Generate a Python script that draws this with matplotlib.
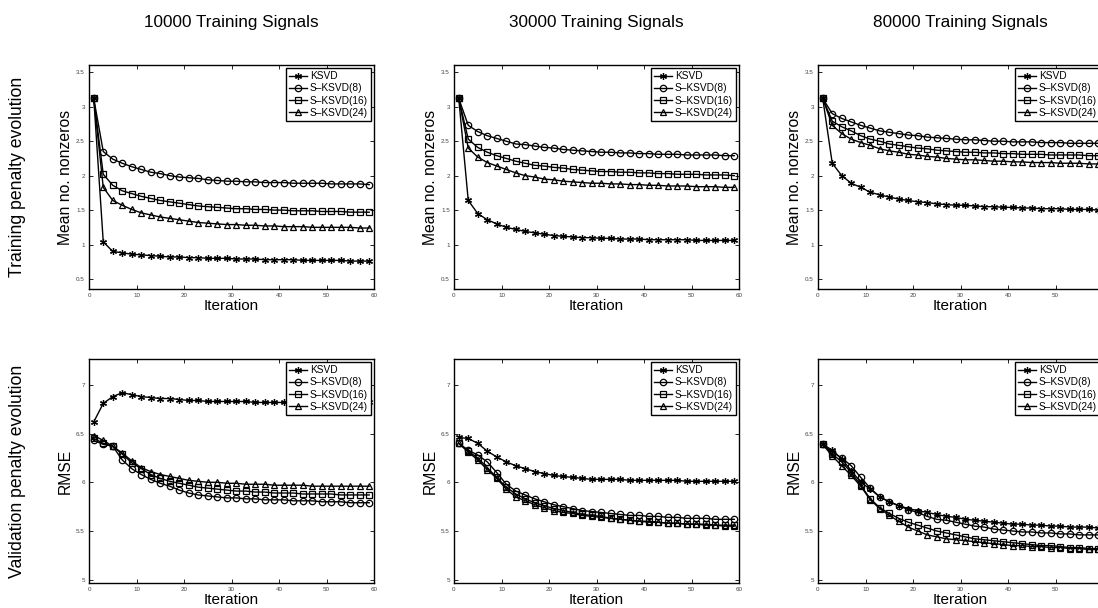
import numpy as np
import matplotlib.pyplot as plt

plt.rcParams['font.family'] = ['Liberation Sans', 'DejaVu Sans']

# iterations where the values were recorded (odd iterations)
iters = np.arange(1, 60, 2)

col_titles = ['10000 Training Signals', '30000 Training Signals', '80000 Training Signals']
row_titles = ['Training penalty evolution', 'Validation penalty evolution']
ylabels = ['Mean no. nonzeros', 'RMSE']
names = ['KSVD', 'S\u2013KSVD(8)', 'S\u2013KSVD(16)', 'S\u2013KSVD(24)']

# --- training penalty (mean no. nonzeros) ---
tr10_ksvd = [3.12, 1.04, 0.90, 0.88, 0.86, 0.85, 0.84, 0.83, 0.82, 0.82, 0.81, 0.81, 0.80, 0.80, 0.80,
             0.79, 0.79, 0.79, 0.78, 0.78, 0.78, 0.78, 0.77, 0.77, 0.77, 0.77, 0.77, 0.76, 0.76, 0.76]
tr10_s8 = [3.12, 2.35, 2.24, 2.18, 2.13, 2.09, 2.05, 2.03, 2.00, 1.98, 1.97, 1.96, 1.94, 1.93, 1.92,
           1.92, 1.91, 1.91, 1.90, 1.90, 1.90, 1.89, 1.89, 1.89, 1.89, 1.88, 1.88, 1.88, 1.88, 1.87]
tr10_s16 = [3.12, 2.02, 1.86, 1.78, 1.74, 1.70, 1.67, 1.64, 1.62, 1.60, 1.58, 1.56, 1.55, 1.54, 1.53,
            1.52, 1.52, 1.51, 1.51, 1.50, 1.50, 1.49, 1.49, 1.49, 1.48, 1.48, 1.48, 1.47, 1.47, 1.47]
tr10_s24 = [3.12, 1.83, 1.64, 1.57, 1.51, 1.46, 1.43, 1.40, 1.38, 1.36, 1.34, 1.32, 1.31, 1.30, 1.29,
            1.29, 1.28, 1.28, 1.27, 1.27, 1.26, 1.26, 1.26, 1.25, 1.25, 1.25, 1.25, 1.25, 1.24, 1.24]

tr30_ksvd = [3.12, 1.64, 1.45, 1.36, 1.30, 1.25, 1.22, 1.19, 1.17, 1.15, 1.13, 1.12, 1.11, 1.10, 1.10,
             1.09, 1.09, 1.08, 1.08, 1.08, 1.07, 1.07, 1.07, 1.07, 1.07, 1.06, 1.06, 1.06, 1.06, 1.06]
tr30_s8 = [3.12, 2.73, 2.64, 2.58, 2.54, 2.50, 2.46, 2.45, 2.43, 2.41, 2.40, 2.38, 2.37, 2.36, 2.35,
           2.34, 2.34, 2.33, 2.33, 2.32, 2.32, 2.31, 2.31, 2.31, 2.30, 2.30, 2.30, 2.30, 2.29, 2.29]
tr30_s16 = [3.12, 2.53, 2.41, 2.34, 2.29, 2.25, 2.21, 2.18, 2.15, 2.14, 2.12, 2.11, 2.09, 2.08, 2.07,
            2.06, 2.06, 2.05, 2.05, 2.04, 2.04, 2.03, 2.03, 2.02, 2.02, 2.02, 2.01, 2.01, 2.01, 2.00]
tr30_s24 = [3.12, 2.40, 2.27, 2.19, 2.14, 2.09, 2.04, 2.00, 1.98, 1.95, 1.94, 1.92, 1.91, 1.90, 1.89,
            1.89, 1.88, 1.88, 1.87, 1.87, 1.86, 1.86, 1.85, 1.85, 1.85, 1.84, 1.84, 1.84, 1.83, 1.83]

tr80_ksvd = [3.12, 2.18, 2.00, 1.89, 1.83, 1.76, 1.72, 1.69, 1.66, 1.64, 1.62, 1.61, 1.59, 1.58, 1.57,
             1.57, 1.56, 1.55, 1.55, 1.54, 1.54, 1.53, 1.53, 1.52, 1.52, 1.52, 1.51, 1.51, 1.51, 1.50]
tr80_s8 = [3.12, 2.90, 2.83, 2.78, 2.73, 2.69, 2.65, 2.63, 2.61, 2.59, 2.58, 2.56, 2.55, 2.54, 2.53,
           2.52, 2.52, 2.51, 2.50, 2.50, 2.49, 2.49, 2.49, 2.48, 2.48, 2.48, 2.47, 2.47, 2.47, 2.47]
tr80_s16 = [3.12, 2.79, 2.71, 2.65, 2.58, 2.53, 2.50, 2.46, 2.44, 2.42, 2.40, 2.39, 2.37, 2.36, 2.35,
            2.34, 2.34, 2.33, 2.33, 2.32, 2.32, 2.31, 2.31, 2.31, 2.30, 2.30, 2.30, 2.30, 2.29, 2.29]
tr80_s24 = [3.12, 2.73, 2.61, 2.53, 2.48, 2.44, 2.39, 2.36, 2.34, 2.31, 2.30, 2.28, 2.27, 2.25, 2.24,
            2.23, 2.23, 2.22, 2.21, 2.21, 2.20, 2.20, 2.19, 2.19, 2.19, 2.18, 2.18, 2.18, 2.17, 2.17]

# --- validation penalty (RMSE) ---
va10_ksvd = [6.62, 6.81, 6.88, 6.92, 6.90, 6.88, 6.87, 6.86, 6.86, 6.85, 6.84, 6.84, 6.83, 6.83, 6.83,
             6.83, 6.83, 6.82, 6.82, 6.82, 6.82, 6.82, 6.82, 6.82, 6.82, 6.82, 6.82, 6.82, 6.82, 6.82]
va10_s8 = [6.43, 6.39, 6.37, 6.23, 6.14, 6.08, 6.03, 5.99, 5.96, 5.92, 5.89, 5.87, 5.86, 5.85, 5.84,
           5.84, 5.83, 5.83, 5.82, 5.82, 5.82, 5.81, 5.81, 5.81, 5.80, 5.80, 5.80, 5.79, 5.79, 5.79]
va10_s16 = [6.45, 6.40, 6.37, 6.29, 6.20, 6.14, 6.08, 6.04, 6.01, 5.99, 5.97, 5.95, 5.94, 5.93, 5.92,
            5.91, 5.91, 5.90, 5.90, 5.89, 5.89, 5.89, 5.88, 5.88, 5.88, 5.88, 5.87, 5.87, 5.87, 5.87]
va10_s24 = [6.48, 6.43, 6.37, 6.30, 6.22, 6.15, 6.11, 6.08, 6.06, 6.04, 6.02, 6.01, 6.00, 6.00, 5.99,
            5.99, 5.98, 5.98, 5.98, 5.97, 5.97, 5.97, 5.97, 5.96, 5.96, 5.96, 5.96, 5.96, 5.96, 5.96]

va30_ksvd = [6.46, 6.45, 6.40, 6.32, 6.26, 6.21, 6.17, 6.14, 6.11, 6.09, 6.07, 6.06, 6.05, 6.04, 6.03,
             6.03, 6.03, 6.03, 6.02, 6.02, 6.02, 6.02, 6.02, 6.02, 6.01, 6.01, 6.01, 6.01, 6.01, 6.01]
va30_s8 = [6.40, 6.33, 6.28, 6.21, 6.10, 5.98, 5.91, 5.87, 5.83, 5.80, 5.77, 5.75, 5.73, 5.71, 5.70,
           5.69, 5.68, 5.67, 5.66, 5.66, 5.65, 5.65, 5.64, 5.64, 5.63, 5.63, 5.63, 5.62, 5.62, 5.62]
va30_s16 = [6.40, 6.32, 6.25, 6.15, 6.05, 5.95, 5.88, 5.83, 5.79, 5.76, 5.73, 5.71, 5.69, 5.67, 5.66,
            5.65, 5.63, 5.62, 5.61, 5.60, 5.60, 5.59, 5.58, 5.58, 5.57, 5.57, 5.57, 5.56, 5.56, 5.56]
va30_s24 = [6.40, 6.31, 6.23, 6.13, 6.04, 5.93, 5.85, 5.81, 5.77, 5.74, 5.71, 5.69, 5.68, 5.66, 5.65,
            5.64, 5.63, 5.62, 5.61, 5.60, 5.59, 5.59, 5.58, 5.58, 5.57, 5.57, 5.56, 5.56, 5.55, 5.55]

va80_ksvd = [6.39, 6.33, 6.24, 6.12, 6.00, 5.93, 5.85, 5.80, 5.76, 5.73, 5.71, 5.69, 5.67, 5.65, 5.64,
             5.62, 5.61, 5.60, 5.59, 5.58, 5.57, 5.57, 5.56, 5.56, 5.55, 5.55, 5.54, 5.54, 5.54, 5.53]
va80_s8 = [6.39, 6.31, 6.25, 6.17, 6.05, 5.94, 5.85, 5.80, 5.76, 5.72, 5.69, 5.65, 5.62, 5.61, 5.59,
           5.57, 5.55, 5.54, 5.52, 5.51, 5.50, 5.49, 5.49, 5.48, 5.48, 5.47, 5.47, 5.46, 5.46, 5.46]
va80_s16 = [6.39, 6.29, 6.21, 6.10, 5.97, 5.83, 5.74, 5.68, 5.63, 5.59, 5.56, 5.53, 5.50, 5.48, 5.46,
            5.44, 5.42, 5.41, 5.40, 5.39, 5.38, 5.37, 5.36, 5.35, 5.35, 5.34, 5.33, 5.33, 5.32, 5.32]
va80_s24 = [6.39, 6.27, 6.17, 6.07, 5.96, 5.82, 5.73, 5.66, 5.60, 5.54, 5.50, 5.46, 5.44, 5.42, 5.41,
            5.40, 5.39, 5.38, 5.37, 5.36, 5.35, 5.35, 5.34, 5.34, 5.33, 5.33, 5.32, 5.32, 5.31, 5.31]

panels = [
    [[tr10_ksvd, tr10_s8, tr10_s16, tr10_s24],
     [tr30_ksvd, tr30_s8, tr30_s16, tr30_s24],
     [tr80_ksvd, tr80_s8, tr80_s16, tr80_s24]],
    [[va10_ksvd, va10_s8, va10_s16, va10_s24],
     [va30_ksvd, va30_s8, va30_s16, va30_s24],
     [va80_ksvd, va80_s8, va80_s16, va80_s24]],
]

markers = [(6, 2, 0), 'o', 's', '^']
msizes = [5, 4.6, 4.0, 4.6]
ylims = [(0.355, 3.606), (4.966, 7.266)]
yticks = [[0.5, 1, 1.5, 2, 2.5, 3, 3.5], [5, 5.5, 6, 6.5, 7]]
ytlabels = [['0.5', '1', '1.5', '2', '2.5', '3', '3.5'], ['5', '5.5', '6', '6.5', '7']]

W, H = 1098, 608
fig = plt.figure(figsize=(W / 100, H / 100), dpi=100)

lefts = [89, 454, 818]
tops = [65, 359]
aw, ah = 285, 224

for r in range(2):
    for c in range(3):
        ax = fig.add_axes([lefts[c] / W, 1 - (tops[r] + ah) / H, aw / W, ah / H])
        for k in range(4):
            ax.plot(iters, panels[r][c][k], color='black', lw=1.0, marker=markers[k],
                    ms=msizes[k], mfc='none', mec='black', mew=0.9, label=names[k])
        ax.set_xlim(0, 60)
        ax.set_ylim(*ylims[r])
        ax.set_xticks(range(0, 61, 10))
        ax.set_yticks(yticks[r])
        ax.set_yticklabels(ytlabels[r])
        ax.tick_params(direction='in', length=3, width=0.6, top=True, right=True,
                       labelsize=4.5, labelcolor='#444444', pad=3)
        for s in ax.spines.values():
            s.set_linewidth(1.0)
        ax.set_xlabel('Iteration', fontsize=11)
        ax.xaxis.set_label_coords(0.5, -0.045)
        ax.set_ylabel(ylabels[r], fontsize=11.3)
        ax.yaxis.set_label_coords(-0.056, 0.5)
        leg = ax.legend(loc='upper right', fontsize=7.3, frameon=True, fancybox=False,
                        edgecolor='black', framealpha=1, handlelength=1.8, handletextpad=0.3,
                        labelspacing=0.22, borderpad=0.3, borderaxespad=0.3)
        leg.get_frame().set_linewidth(1.0)

for c in range(3):
    fig.text((lefts[c] + aw / 2) / W, 1 - 22 / H, col_titles[c], ha='center', va='center', fontsize=12.3)

for r in range(2):
    fig.text(18 / W, 1 - (tops[r] + ah / 2) / H, row_titles[r], rotation=90,
             ha='center', va='center', fontsize=12.7)

fig.savefig('out.png', dpi=100)
